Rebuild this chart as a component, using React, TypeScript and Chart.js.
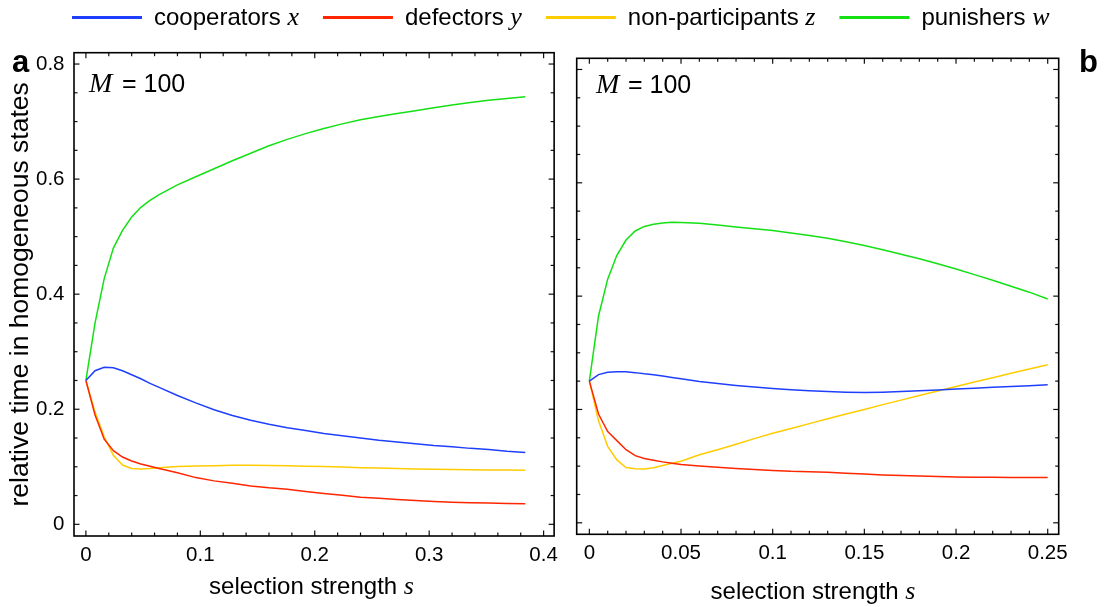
import React, { useEffect, useRef } from "react";
import { Chart, registerables } from "chart.js";

Chart.register(...registerables);

const SANS = '"Liberation Sans", Arial, Helvetica, sans-serif';
const SERIF = '"Liberation Serif", "Times New Roman", serif';

// ---------- data ----------
const seriesNames = ["cooperators", "defectors", "non-participants", "punishers"];
const seriesVars = ["x", "y", "z", "w"];
const seriesColors = ["#1f3fff", "#ff2600", "#ffcc00", "#14e014"];

// panel a
const sA = [0, 0.008, 0.016, 0.024, 0.032, 0.04, 0.048, 0.056, 0.064, 0.08, 0.096, 0.112, 0.128, 0.144, 0.16, 0.176, 0.192, 0.208, 0.224, 0.24, 0.256, 0.272, 0.288, 0.304, 0.32, 0.336, 0.352, 0.368, 0.384];
const coopA = [0.25, 0.267, 0.273, 0.272, 0.267, 0.26, 0.253, 0.245, 0.238, 0.224, 0.211, 0.199, 0.189, 0.181, 0.174, 0.168, 0.163, 0.158, 0.154, 0.15, 0.146, 0.143, 0.14, 0.137, 0.135, 0.132, 0.13, 0.127, 0.125];
const defA = [0.25, 0.19, 0.148, 0.128, 0.117, 0.11, 0.105, 0.101, 0.097, 0.0895, 0.0812, 0.0755, 0.0712, 0.0668, 0.0635, 0.061, 0.057, 0.0535, 0.0505, 0.0472, 0.0452, 0.0433, 0.0412, 0.0395, 0.0385, 0.0376, 0.0369, 0.0363, 0.0358];
const nonA = [0.25, 0.195, 0.152, 0.12, 0.103, 0.097, 0.096, 0.097, 0.0985, 0.1005, 0.1015, 0.102, 0.1025, 0.1026, 0.1023, 0.1017, 0.101, 0.1003, 0.0995, 0.0985, 0.0978, 0.097, 0.0963, 0.0958, 0.0952, 0.0948, 0.0945, 0.0942, 0.0939];
const punA = [0.25, 0.35, 0.427, 0.48, 0.511, 0.534, 0.551, 0.563, 0.573, 0.59, 0.604, 0.618, 0.632, 0.645, 0.658, 0.669, 0.679, 0.688, 0.696, 0.703, 0.709, 0.714, 0.719, 0.724, 0.729, 0.733, 0.737, 0.74, 0.743];

// panel b
const sB = [0, 0.005, 0.01, 0.015, 0.02, 0.025, 0.03, 0.035, 0.04, 0.045, 0.05, 0.06, 0.07, 0.08, 0.09, 0.1, 0.11, 0.12, 0.13, 0.14, 0.15, 0.16, 0.17, 0.18, 0.19, 0.2, 0.21, 0.22, 0.23, 0.24, 0.25];
const coopB = [0.25, 0.2615, 0.2655, 0.2667, 0.2665, 0.265, 0.263, 0.2614, 0.259, 0.2565, 0.254, 0.2495, 0.246, 0.2425, 0.2395, 0.237, 0.235, 0.233, 0.2315, 0.2305, 0.23, 0.2305, 0.2315, 0.233, 0.2345, 0.236, 0.2375, 0.239, 0.2405, 0.242, 0.2435];
const defB = [0.25, 0.192, 0.161, 0.145, 0.129, 0.1185, 0.1135, 0.1104, 0.1075, 0.105, 0.103, 0.1003, 0.098, 0.096, 0.094, 0.0925, 0.091, 0.0903, 0.089, 0.0875, 0.086, 0.0845, 0.0835, 0.0825, 0.0815, 0.081, 0.0805, 0.0803, 0.0801, 0.08, 0.0799];
const nonB = [0.25, 0.18, 0.135, 0.111, 0.0975, 0.0952, 0.095, 0.097, 0.101, 0.105, 0.1085, 0.12, 0.129, 0.1385, 0.1485, 0.158, 0.1665, 0.175, 0.1835, 0.192, 0.2, 0.2085, 0.2165, 0.2245, 0.2325, 0.2405, 0.2485, 0.256, 0.264, 0.2715, 0.279];
const punB = [0.25, 0.365, 0.43, 0.472, 0.499, 0.515, 0.523, 0.527, 0.529, 0.5305, 0.53, 0.5285, 0.5255, 0.522, 0.519, 0.516, 0.5115, 0.507, 0.502, 0.496, 0.4895, 0.482, 0.474, 0.466, 0.457, 0.448, 0.438, 0.428, 0.4175, 0.407, 0.395];

// ticks
const xTicksA = [0, 0.1, 0.2, 0.3, 0.4];
const xTicksB = [0, 0.05, 0.1, 0.15, 0.2, 0.25];
const yTicks = [0, 0.2, 0.4, 0.6, 0.8];
const xMinorStepA = 0.02;
const xMinorStepB = 0.01;
const yMinorStep = 0.05;

const xTitleText = "selection strength ";
const xTitleVar = "s";
const yTitleText = "relative time in homogeneous states";
const annotText = "= 100";
const annotVar = "M";

const TICK_FONT = 20.5;

// ---------- plugins ----------
function stepValues(min: number, max: number, step: number) {
  const out: number[] = [];
  const start = Math.ceil(min / step - 1e-9);
  for (let k = start; k * step <= max + 1e-9; k++) out.push(k * step);
  return out;
}

const framePlugin = {
  id: "frameTicks",
  afterDatasetsDraw(chart: any, _args: any, opts: any) {
    const { ctx, chartArea: a } = chart;
    const xs = chart.scales.x;
    const ys = chart.scales.y;
    ctx.save();
    ctx.strokeStyle = "#111";
    ctx.lineWidth = 1.2;
    const seg = (x1: number, y1: number, x2: number, y2: number) => {
      ctx.beginPath();
      ctx.moveTo(x1, y1);
      ctx.lineTo(x2, y2);
      ctx.stroke();
    };
    const majX: number[] = opts.xMajor;
    const majY: number[] = opts.yMajor;
    const isMaj = (arr: number[], v: number) => arr.some((m) => Math.abs(m - v) < 1e-6);
    stepValues(xs.min, xs.max, opts.xMinor).forEach((v) => {
      const p = xs.getPixelForValue(v);
      const len = isMaj(majX, v) ? 5.5 : 3.5;
      seg(p, a.bottom, p, a.bottom - len);
      seg(p, a.top, p, a.top + len);
    });
    stepValues(ys.min, ys.max, opts.yMinor).forEach((v) => {
      const p = ys.getPixelForValue(v);
      const len = isMaj(majY, v) ? 5.5 : 3.5;
      seg(a.left, p, a.left + len, p);
      seg(a.right, p, a.right - len, p);
    });
    ctx.lineWidth = 1.6;
    ctx.strokeStyle = "#000";
    ctx.strokeRect(a.left, a.top, a.right - a.left, a.bottom - a.top);
    ctx.restore();
  },
};

const textPlugin = {
  id: "panelText",
  afterDraw(chart: any, _args: any, opts: any) {
    const ctx = chart.ctx;
    ctx.save();
    ctx.fillStyle = "#000";
    ctx.textBaseline = "alphabetic";
    ctx.textAlign = "left";
    // annotation M = 100
    ctx.font = `italic 28px ${SERIF}`;
    ctx.fillText(annotVar, opts.mX, opts.mY);
    ctx.font = `25px ${SANS}`;
    ctx.fillText(annotText, opts.eqX, opts.mY);
    // panel letter
    ctx.font = `bold 31px ${SANS}`;
    ctx.fillText(opts.letter, opts.letterX, opts.letterY);
    // x title
    ctx.font = `24px ${SANS}`;
    const w1 = ctx.measureText(xTitleText).width;
    ctx.font = `italic 26px ${SERIF}`;
    const w2 = ctx.measureText(xTitleVar).width;
    const start = opts.titleCx - (w1 + w2) / 2;
    ctx.font = `24px ${SANS}`;
    ctx.fillText(xTitleText, start, opts.titleY);
    ctx.font = `italic 26px ${SERIF}`;
    ctx.fillText(xTitleVar, start + w1, opts.titleY);
    ctx.restore();
  },
};

const legendPlugin = {
  id: "figLegend",
  afterDraw(chart: any, _args: any, opts: any) {
    if (!opts || !opts.show) return;
    const ctx = chart.ctx;
    ctx.save();
    let x = opts.x;
    const lineY = opts.lineY;
    const base = opts.baseY;
    chart.data.datasets.forEach((ds: any, i: number) => {
      ctx.strokeStyle = ds.borderColor;
      ctx.lineWidth = 3;
      ctx.beginPath();
      ctx.moveTo(x, lineY);
      ctx.lineTo(x + 70, lineY);
      ctx.stroke();
      x += 82;
      ctx.fillStyle = "#000";
      ctx.textBaseline = "alphabetic";
      ctx.textAlign = "left";
      ctx.font = `24px ${SANS}`;
      const t = ds.label + " ";
      ctx.fillText(t, x, base);
      x += ctx.measureText(t).width;
      ctx.font = `italic 26px ${SERIF}`;
      ctx.fillText(seriesVars[i], x, base);
      x += ctx.measureText(seriesVars[i]).width;
      x += 24;
    });
    ctx.restore();
  },
};

// ---------- config builders ----------
function makeDatasets(s: number[], series: number[][]) {
  return series.map((vals, i) => ({
    label: seriesNames[i],
    data: s.map((sv, j) => ({ x: sv, y: vals[j] })),
    borderColor: seriesColors[i],
    backgroundColor: seriesColors[i],
    borderWidth: 1.5,
    pointRadius: 0,
    tension: 0,
    fill: false,
  }));
}

const fmt = (v: number) => String(parseFloat(Number(v).toFixed(3)));

function makeConfig(panel: "a" | "b"): any {
  const isA = panel === "a";
  const s = isA ? sA : sB;
  const series = isA ? [coopA, defA, nonA, punA] : [coopB, defB, nonB, punB];
  const xTicks = isA ? xTicksA : xTicksB;
  return {
    type: "line",
    data: { datasets: makeDatasets(s, series) },
    plugins: [framePlugin, textPlugin, legendPlugin],
    options: {
      responsive: false,
      animation: false,
      events: [],
      layout: {
        padding: isA
          ? { left: 0, top: 52.7, right: 6.7, bottom: 0 }
          : { left: 576.7, top: 58.3, right: 46.3, bottom: 0 },
      },
      scales: {
        x: {
          type: "linear",
          min: isA ? -0.0104 : -0.0069,
          max: isA ? 0.4092 : 0.256,
          grid: { display: false, drawTicks: false },
          border: { display: false },
          afterBuildTicks: (sc: any) => {
            sc.ticks = xTicks.map((v) => ({ value: v }));
          },
          afterFit: (sc: any) => {
            sc.height = isA ? 71 : 72.7;
          },
          ticks: {
            autoSkip: false,
            maxRotation: 0,
            padding: 7,
            color: "#000",
            font: { size: TICK_FONT, family: SANS },
            callback: (v: any) => fmt(v),
          },
        },
        y: {
          type: "linear",
          display: isA,
          min: -0.0203,
          max: 0.8197,
          grid: { display: false, drawTicks: false },
          border: { display: false },
          afterBuildTicks: (sc: any) => {
            sc.ticks = yTicks.map((v) => ({ value: v }));
          },
          afterFit: (sc: any) => {
            sc.width = isA ? 74 : 0;
          },
          title: {
            display: isA,
            text: yTitleText,
            color: "#000",
            font: { size: 26.5, family: SANS },
            padding: { top: 5, bottom: 0 },
          },
          ticks: {
            padding: 9.5,
            color: "#000",
            font: { size: TICK_FONT, family: SANS },
            callback: (v: any) => fmt(v),
          },
        },
      },
      plugins: {
        legend: { display: false },
        tooltip: { enabled: false },
        frameTicks: {
          xMajor: xTicks,
          yMajor: yTicks,
          xMinor: isA ? xMinorStepA : xMinorStepB,
          yMinor: yMinorStep,
        },
        panelText: isA
          ? { mX: 89, mY: 92, eqX: 122, letter: "a", letterX: 12, letterY: 72, titleCx: 311.5, titleY: 594 }
          : { mX: 596, mY: 93, eqX: 628, letter: "b", letterX: 1079, letterY: 72, titleCx: 813, titleY: 598.5 },
        figLegend: isA ? { show: false } : { show: true, x: 72, lineY: 17.5, baseY: 25 },
      },
    },
  };
}

export default function App() {
  const refA = useRef<HTMLCanvasElement>(null);
  const refB = useRef<HTMLCanvasElement>(null);
  useEffect(() => {
    const cb = new Chart(refB.current as HTMLCanvasElement, makeConfig("b"));
    const ca = new Chart(refA.current as HTMLCanvasElement, makeConfig("a"));
    return () => {
      ca.destroy();
      cb.destroy();
    };
  }, []);
  return (
    <div style={{ position: "fixed", left: 0, top: 0, width: 1105, height: 607, background: "#fff", overflow: "hidden" }}>
      <canvas ref={refB} width={1105} height={607} style={{ position: "absolute", left: 0, top: 0, width: 1105, height: 607 }} />
      <canvas ref={refA} width={565} height={607} style={{ position: "absolute", left: 0, top: 0, width: 565, height: 607 }} />
    </div>
  );
}
